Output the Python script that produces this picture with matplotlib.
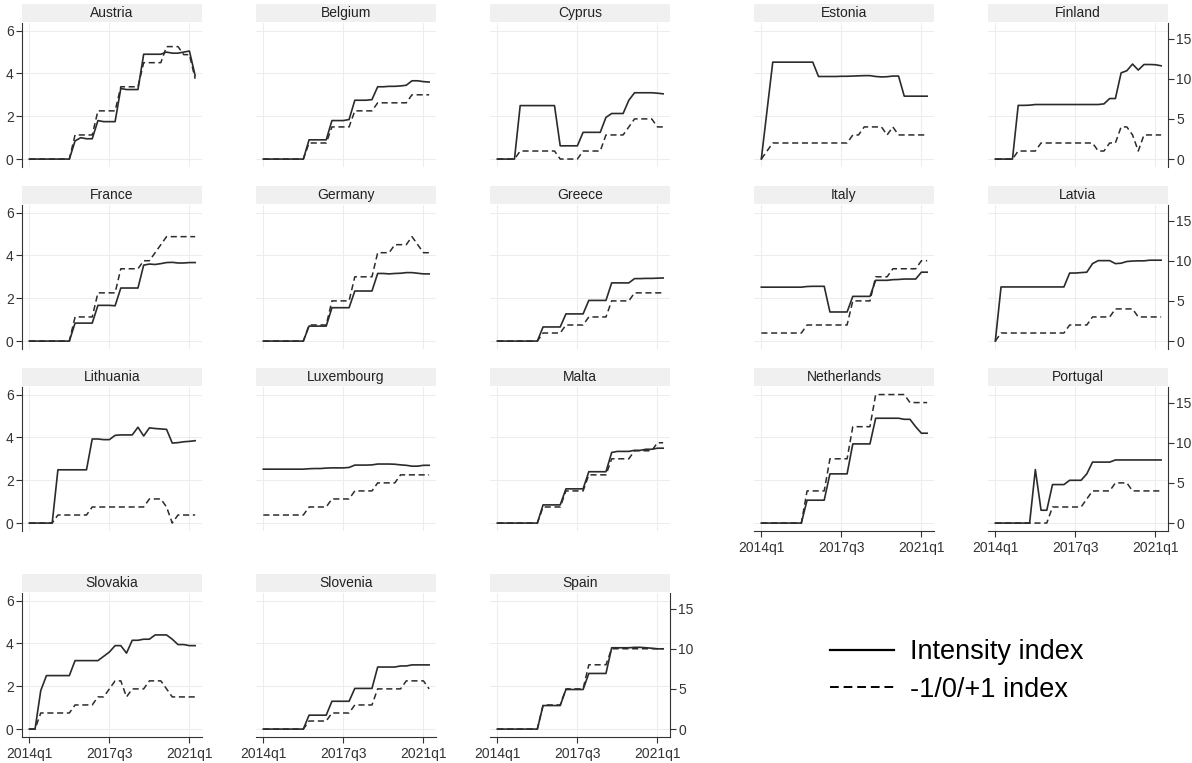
import matplotlib.pyplot as plt
from matplotlib.lines import Line2D

plt.rcParams['font.family'] = ['Liberation Sans', 'DejaVu Sans']

# quarterly observations 2014q1 .. 2021q2
quarters = [f"{y}q{q}" for y in range(2014, 2022) for q in range(1, 5)][:30]
xtick_pos = [0, 14, 28]
xtick_labels = ["2014q1", "2017q3", "2021q1"]

countries = ["Austria", "Belgium", "Cyprus", "Estonia", "Finland",
             "France", "Germany", "Greece", "Italy", "Latvia",
             "Lithuania", "Luxembourg", "Malta", "Netherlands", "Portugal",
             "Slovakia", "Slovenia", "Spain"]

# intensity index (left axis)
intensity = {
    "Austria": [0]*8 + [0.85, 1.0, 0.95, 0.95, 1.8, 1.75, 1.75, 1.75, 3.3, 3.25, 3.25, 3.25,
                        4.9, 4.9, 4.9, 4.9, 5.0, 4.95, 4.95, 5.0, 5.05, 3.9],
    "Belgium": [0]*8 + [0.9]*4 + [1.8, 1.8, 1.8, 1.85, 2.75, 2.75, 2.75, 2.78,
                                  3.38, 3.38, 3.4, 3.4, 3.42, 3.45, 3.66, 3.66, 3.62, 3.6],
    "Cyprus": [0]*4 + [2.5]*7 + [0.62]*4 + [1.25]*4 + [1.95, 2.13, 2.13, 2.13, 2.75,
                                                       3.1, 3.1, 3.1, 3.1, 3.08, 3.05],
    "Estonia": [0, 2.27] + [4.53]*8 + [3.86, 3.86, 3.86, 3.86, 3.87, 3.87, 3.88, 3.89, 3.9, 3.9,
                                       3.86, 3.84, 3.85, 3.88, 3.88] + [2.94]*5,
    "Finland": [0]*4 + [2.51, 2.51, 2.52, 2.55] + [2.55]*10 + [2.55, 2.58, 2.83, 2.83,
                                                                4.03, 4.13, 4.44, 4.16, 4.42, 4.42, 4.41, 4.36],
    "France": [0]*8 + [0.84]*4 + [1.67, 1.67, 1.67, 1.65] + [2.48]*4 +
              [3.55, 3.6, 3.58, 3.62, 3.67, 3.68, 3.65, 3.65, 3.67, 3.67],
    "Germany": [0]*8 + [0.7]*4 + [1.56]*4 + [2.34]*4 +
               [3.16, 3.16, 3.14, 3.16, 3.17, 3.2, 3.2, 3.17, 3.14, 3.14],
    "Greece": [0]*8 + [0.66]*4 + [1.27]*4 + [1.9]*4 + [2.72]*4 +
              [2.92, 2.92, 2.93, 2.93, 2.94, 2.95],
    "Italy": [2.52]*8 + [2.55, 2.56, 2.56, 2.56] + [1.36]*4 + [2.09]*4 +
             [2.84, 2.84, 2.84, 2.87, 2.88, 2.9, 2.9, 2.9, 3.22, 3.22],
    "Latvia": [0] + [2.53]*12 + [3.18, 3.18, 3.2, 3.22, 3.62, 3.76, 3.76, 3.76, 3.62,
                                 3.64, 3.72, 3.74, 3.75, 3.75, 3.78, 3.78, 3.78],
    "Lithuania": [0]*5 + [2.49]*6 + [3.93, 3.93, 3.9, 3.9, 4.1, 4.12, 4.12, 4.12, 4.48, 4.07,
                                     4.45, 4.42, 4.4, 4.38, 3.74, 3.76, 3.8, 3.82, 3.85],
    "Luxembourg": [2.52]*8 + [2.54, 2.55, 2.55, 2.57, 2.58, 2.58, 2.58, 2.6, 2.71, 2.71, 2.71,
                              2.72, 2.76, 2.76, 2.76, 2.75, 2.72, 2.7, 2.66, 2.66, 2.7, 2.7],
    "Malta": [0]*8 + [0.85]*4 + [1.6]*4 + [2.4]*4 +
             [3.3, 3.35, 3.35, 3.35, 3.4, 3.4, 3.45, 3.45, 3.5, 3.5],
    "Netherlands": [0]*8 + [1.07]*4 + [2.3]*4 + [3.7]*4 + [4.9]*4 +
                   [4.9, 4.85, 4.85, 4.5, 4.2, 4.2],
    "Portugal": [0]*7 + [2.5, 0.6, 0.6, 1.8, 1.8, 1.8, 2.0, 2.0, 2.0, 2.3, 2.85, 2.85, 2.85,
                         2.85, 2.95, 2.95, 2.95, 2.95, 2.95, 2.95, 2.95, 2.95, 2.95],
    "Slovakia": [0, 0, 1.8] + [2.5]*5 + [3.2]*5 + [3.4, 3.6, 3.9, 3.9, 3.55, 4.15, 4.15, 4.2,
                                                 4.2, 4.4, 4.4, 4.4, 4.2, 3.95, 3.95, 3.9, 3.9],
    "Slovenia": [0]*8 + [0.65]*4 + [1.3]*4 + [1.9]*4 + [2.9]*4 +
                [2.95, 2.95, 3.0, 3.0, 3.0, 3.0],
    "Spain": [0]*8 + [1.1]*4 + [1.85]*4 + [2.6]*4 + [3.8]*4 +
             [3.82, 3.82, 3.8, 3.78, 3.75, 3.75],
}

# -1/0/+1 index (right axis)
pm_index = {
    "Austria": [0]*8 + [3]*4 + [6]*4 + [9]*4 + [12]*4 + [14, 14, 14, 13, 13, 10],
    "Belgium": [0]*8 + [2]*4 + [4]*4 + [6]*4 + [7]*6 + [8]*4,
    "Cyprus": [0]*4 + [1]*7 + [0]*4 + [1]*4 + [3, 3, 3, 3, 4, 5, 5, 5, 5, 4, 4],
    "Estonia": [0, 1] + [2]*14 + [3, 3] + [4]*4 + [3, 4] + [3]*6,
    "Finland": [0]*4 + [1]*4 + [2]*10 + [1, 1, 2, 2, 4, 4, 3, 1, 3, 3, 3, 3],
    "France": [0]*8 + [3]*4 + [6]*4 + [9]*4 + [10, 10, 11, 12] + [13]*6,
    "Germany": [0]*8 + [2]*4 + [5]*4 + [8]*4 + [11, 11, 11, 12, 12, 12, 13, 12, 11, 11],
    "Greece": [0]*8 + [1]*4 + [2]*4 + [3]*4 + [5]*4 + [6]*6,
    "Italy": [1]*8 + [2]*8 + [5]*4 + [8]*3 + [9]*5 + [10]*2,
    "Latvia": [0] + [1]*12 + [2]*4 + [3]*4 + [4]*4 + [3]*5,
    "Lithuania": [0]*5 + [1]*6 + [2]*10 + [3, 3, 3, 2, 0, 1, 1, 1, 1],
    "Luxembourg": [1]*8 + [2]*4 + [3]*4 + [4]*4 + [5]*4 + [6]*6,
    "Malta": [0]*8 + [2]*4 + [4]*4 + [6]*4 + [8]*4 + [9, 9, 9, 9, 10, 10],
    "Netherlands": [0]*8 + [4]*4 + [8]*4 + [12]*4 + [16]*4 + [16, 16, 15, 15, 15, 15],
    "Portugal": [0]*10 + [2]*6 + [3, 4, 4, 4, 4, 5, 5, 5, 4, 4, 4, 4, 4, 4],
    "Slovakia": [0, 0] + [2]*6 + [3]*4 + [4, 4, 5, 6, 6, 4, 5, 5, 5, 6, 6, 6, 5, 4, 4, 4, 4, 4],
    "Slovenia": [0]*8 + [1]*4 + [2]*4 + [3]*4 + [5]*4 + [5, 6, 6, 6, 6, 5],
    "Spain": [0]*8 + [3]*4 + [5]*4 + [8]*4 + [10]*4 + [10]*6,
}

W, H = 1192, 763
fig = plt.figure(figsize=(W / 100, H / 100), dpi=100)

col_left = [22, 256, 490, 754, 988]
row_top = [23, 205, 387, 593]
pw, ph, sh = 180, 144, 18
line_col = "#2b2b2b"
grid_col = "#ededed"
txt_col = "#333333"


def rect(x0, y0, w, h):
    return [x0 / W, 1 - (y0 + h) / H, w / W, h / H]


x = list(range(len(quarters)))
n = len(countries)
for i, name in enumerate(countries):
    r, c = divmod(i, 5)
    x0, y0 = col_left[c], row_top[r]

    ax = fig.add_axes(rect(x0, y0, pw, ph))
    ax2 = ax.twinx()
    ax.set_xlim(-1.28, 30.2)
    ax.set_ylim(-0.37, 6.36)
    ax2.set_ylim(-0.99, 16.94)

    ax.plot(x, intensity[name], color=line_col, lw=1.2)
    ax2.plot(x, pm_index[name], color=line_col, lw=1.1, dashes=(4.0, 2.4))

    ax.set_xticks(xtick_pos)
    ax.set_yticks([0, 2, 4, 6])
    ax2.set_yticks([0, 5, 10, 15])
    ax.grid(True, color=grid_col, lw=0.8)
    ax.set_axisbelow(True)
    for a in (ax, ax2):
        for s in a.spines.values():
            s.set_visible(False)

    show_left = c == 0
    show_right = c == 4 or i == n - 1
    show_bottom = r == 3 or (r == 2 and c >= 3)

    ax.tick_params(axis="y", left=show_left, labelleft=show_left, length=4,
                   color=txt_col, labelsize=10, labelcolor=txt_col, pad=2)
    ax2.tick_params(axis="y", right=show_right, labelright=show_right, length=4,
                    color=txt_col, labelsize=10, labelcolor=txt_col, pad=2)
    ax.tick_params(axis="x", bottom=show_bottom, labelbottom=show_bottom, length=4,
                   color=txt_col, labelsize=10, labelcolor=txt_col, pad=3)
    ax.set_xticklabels(xtick_labels)
    if show_left:
        ax.spines["left"].set_visible(True)
        ax.spines["left"].set_color(txt_col)
    if show_right:
        ax2.spines["right"].set_visible(True)
        ax2.spines["right"].set_color(txt_col)
    if show_bottom:
        ax.spines["bottom"].set_visible(True)
        ax.spines["bottom"].set_color(txt_col)

    sax = fig.add_axes(rect(x0, y0 - sh - 1, pw, sh))
    sax.set_facecolor("#f0f0f0")
    sax.set_xticks([])
    sax.set_yticks([])
    for s in sax.spines.values():
        s.set_visible(False)
    sax.text(0.5, 0.5, name, ha="center", va="center", fontsize=10, color="#222222")

handles = [Line2D([], [], color="black", lw=1.6),
           Line2D([], [], color="black", lw=1.4, dashes=(4.5, 2.5))]
fig.legend(handles, ["Intensity index", "-1/0/+1 index"], loc="center left",
           bbox_to_anchor=(830 / W, 1 - 671 / H), frameon=False, fontsize=19.5,
           handlelength=2.35, handletextpad=0.6, labelspacing=0.42,
           borderpad=0, borderaxespad=0)

fig.savefig("out.png", dpi=100, facecolor="white")
